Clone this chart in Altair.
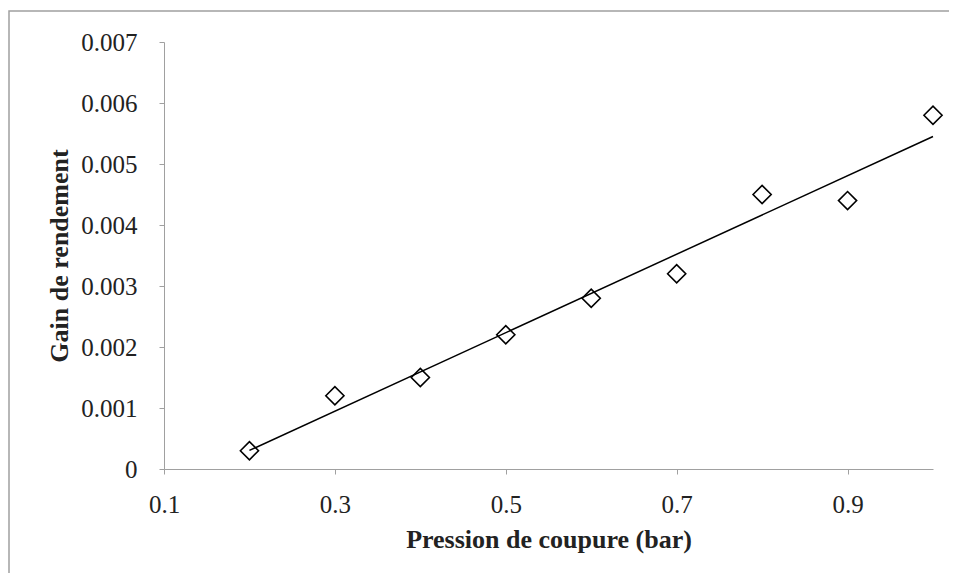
import altair as alt
import pandas as pd

pression = [0.2, 0.3, 0.4, 0.5, 0.6, 0.7, 0.8, 0.9, 1.0]
gain = [0.0003, 0.0012, 0.0015, 0.0022, 0.0028, 0.0032, 0.0045, 0.0044, 0.0058]
x_ticks = [0.1, 0.3, 0.5, 0.7, 0.9]
y_ticks = [0, 0.001, 0.002, 0.003, 0.004, 0.005, 0.006, 0.007]

df = pd.DataFrame({"x": pression, "y": gain})

W, H = 769, 427
FONT = "Liberation Serif, Times New Roman, serif"
GREY = "#a0a0a0"

xs = alt.Scale(domain=[0.1, 1.0], nice=False, zero=False)
ys = alt.Scale(domain=[0, 0.007], nice=False)

x_axis = alt.Axis(values=x_ticks, format=".1f", title="Pression de coupure (bar)",
                  grid=False, domainColor=GREY, tickColor=GREY, tickSize=5, labelFlush=False,
                  labelFont=FONT, labelFontSize=25, labelColor="#222222", labelPadding=18,
                  titleFont=FONT, titleFontSize=26, titleFontWeight="bold", titleColor="#222222",
                  titlePadding=9)
y_axis = alt.Axis(values=y_ticks, format="~f", title="Gain de rendement",
                  grid=False, domainColor=GREY, tickColor=GREY, tickSize=5, labelFlush=False,
                  labelFont=FONT, labelFontSize=25, labelColor="#222222", labelPadding=22,
                  titleFont=FONT, titleFontSize=26, titleFontWeight="bold", titleColor="#222222",
                  titlePadding=8)

border = alt.Chart(pd.DataFrame({"a": [0]})).mark_rect(
    fill=None, stroke=GREY, strokeWidth=1.5
).encode(x=alt.value(-155), x2=alt.value(W + 60), y=alt.value(-31), y2=alt.value(H + 200))

points = alt.Chart(df).mark_point(
    shape="diamond", size=330, filled=False, stroke="black", strokeWidth=1.6, opacity=1
).encode(x=alt.X("x:Q", scale=xs, axis=x_axis), y=alt.Y("y:Q", scale=ys, axis=y_axis))

trend = alt.Chart(df).transform_regression("x", "y").mark_line(
    color="black", strokeWidth=1.5
).encode(x=alt.X("x:Q", scale=xs), y=alt.Y("y:Q", scale=ys))

chart = alt.layer(border, trend, points).properties(
    width=W, height=H,
    autosize=alt.AutoSizeParams(type="none"),
    padding={"left": 156, "top": 34, "right": 16, "bottom": 104},
    background="white",
).configure_view(stroke=None)

chart.save("out.html", embed_options={"renderer": "svg", "actions": False})
